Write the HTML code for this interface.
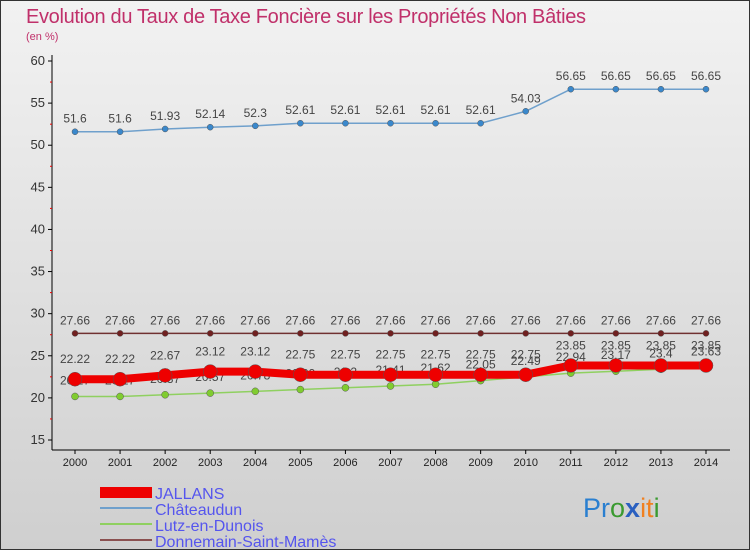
<!DOCTYPE html>
<html><head><meta charset="utf-8"><style>
body{margin:0;width:750px;height:550px;overflow:hidden;font-family:"Liberation Sans","DejaVu Sans",sans-serif}
</style></head><body>
<svg id="c" width="750" height="550" xmlns="http://www.w3.org/2000/svg">
<defs><linearGradient id="bg" x1="0" y1="0" x2="0" y2="1"><stop offset="0" stop-color="#f2f2f2"/><stop offset="1" stop-color="#cfcfcf"/></linearGradient></defs>
<rect x="0.5" y="0.5" width="749" height="549" fill="url(#bg)" stroke="#333"/>
<text x="26" y="23" font-size="20" fill="#c0306a" textLength="560">Evolution du Taux de Taxe Foncière sur les Propriétés Non Bâties</text>
<text x="26" y="40" font-size="11" fill="#c0306a">(en %)</text>
<g id="axes"></g><g id="series"></g>
<g>
<rect x="100" y="487" width="52" height="11" fill="#e00"/>
<line x1="100" y1="508" x2="152" y2="508" stroke="#6fa0cc" stroke-width="2"/>
<line x1="100" y1="524" x2="152" y2="524" stroke="#8fd060" stroke-width="2"/>
<line x1="100" y1="540" x2="152" y2="540" stroke="#8a5050" stroke-width="2"/>
<g font-size="16" fill="#5555ee">
<text x="155" y="499">JALLANS</text>
<text x="155" y="515">Châteaudun</text>
<text x="155" y="531">Lutz-en-Dunois</text>
<text x="155" y="547">Donnemain-Saint-Mamès</text>
</g></g>
<text x="583" y="517" font-size="27"><tspan fill="#2a7fd0">Pr</tspan><tspan fill="#3a9a30">o</tspan><tspan fill="#2a60c0" font-weight="bold">x</tspan><tspan fill="#f08020">it</tspan><tspan fill="#3a9a30">i</tspan></text>
</svg>
<script>
const years=[2000,2001,2002,2003,2004,2005,2006,2007,2008,2009,2010,2011,2012,2013,2014];
const jallans=[22.22,22.22,22.67,23.12,23.12,22.75,22.75,22.75,22.75,22.75,22.75,23.85,23.85,23.85,23.85];
const chateaudun=[51.6,51.6,51.93,52.14,52.3,52.61,52.61,52.61,52.61,52.61,54.03,56.65,56.65,56.65,56.65];
const lutz=[20.17,20.17,20.37,20.57,20.78,20.99,21.2,21.41,21.62,22.05,22.49,22.94,23.17,23.4,23.63];
const donnemain=[27.66,27.66,27.66,27.66,27.66,27.66,27.66,27.66,27.66,27.66,27.66,27.66,27.66,27.66,27.66];
const yTicks=[15,20,25,30,35,40,45,50,55,60];
const NS="http://www.w3.org/2000/svg";
const x=i=>75+i*(706-75)/(years.length-1);
const y=v=>61+(60-v)*(440-61)/45;
function mk(t,a,p){const e=document.createElementNS(NS,t);for(const k in a)e.setAttribute(k,a[k]);p.appendChild(e);return e;}
const ax=document.getElementById('axes'),sr=document.getElementById('series');
const yl=mk('line',{x1:52,y1:55,x2:52,y2:450,stroke:'#000'},ax);


const xl=mk('line',{x1:52,y1:450,x2:730,y2:450,stroke:'#000'},ax);


yTicks.forEach(v=>{
  mk('line',{x1:48,y1:y(v),x2:52,y2:y(v),stroke:'#000'},ax);
  if(v<60)mk('line',{x1:50,y1:y(v+2.5),x2:52,y2:y(v+2.5),stroke:'#e00'},ax);
  const t=mk('text',{x:45,y:y(v)+4,'font-size':13,'text-anchor':'end',fill:'#333'},ax);t.textContent=v;
  
  
});
years.forEach((yr,i)=>{
  mk('line',{x1:x(i),y1:450,x2:x(i),y2:454,stroke:'#000'},ax);
  const t=mk('text',{x:x(i),y:466,'font-size':11,'text-anchor':'middle',fill:'#222'},ax);t.textContent=yr;
  
  
});
function series(d,name,col,w,r,dot,lab){
  const g=mk('g',{},sr);
  
  
  mk('polyline',{points:d.map((v,i)=>x(i)+','+y(v)).join(' '),fill:'none',stroke:col,'stroke-width':w,'stroke-linejoin':'round'},g);
  d.forEach((v,i)=>{
    const c=mk('circle',{cx:x(i),cy:y(v),r:r,fill:dot,stroke:'#555','stroke-width':0.5},g);
    
    
    const t=mk('text',{x:x(i),y:y(v)+lab,'font-size':12,'text-anchor':'middle',fill:'#444'},g);t.textContent=v;
  });
}
series(chateaudun,'chateaudun','#6fa0cc',1.5,3,'#3a88cc',-9);
series(donnemain,'donnemain','#703030',1.5,3,'#702020',-9);
series(lutz,'lutz','#8fd060',1.5,3.5,'#80cc30',-12);
series(jallans,'jallans','#e00',8,7,'#e00',-16);
</script>
</body></html>
